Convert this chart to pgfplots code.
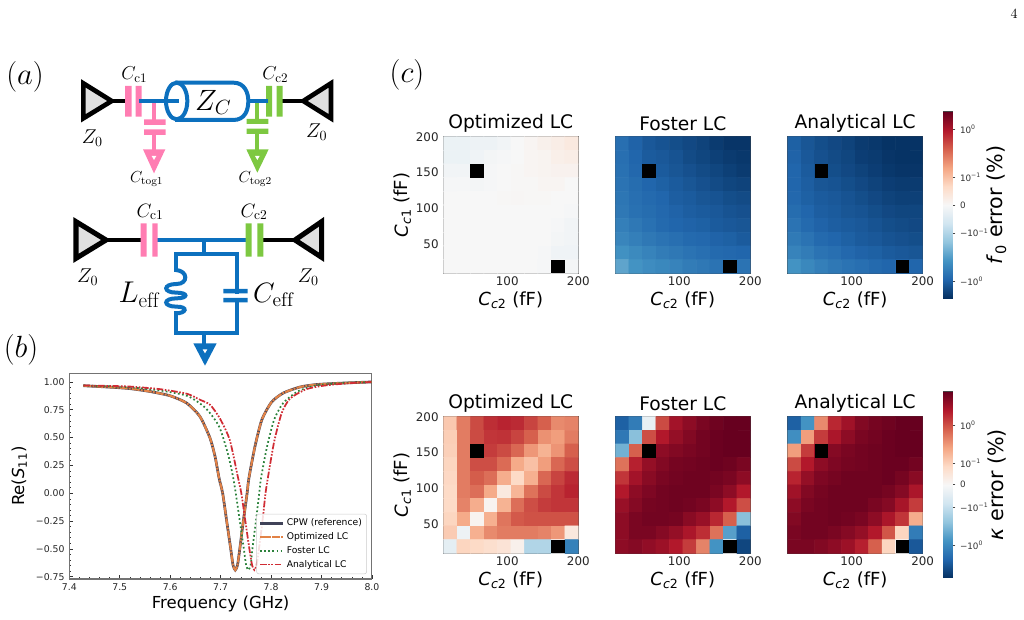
\RequirePackage{fix-cm}
\documentclass[border=0pt]{standalone}
\usepackage{fontspec}
\usepackage{pgfplots}
\pgfplotsset{compat=1.18}
\newfontfamily\dv{DejaVu Sans}
\newcommand\fs[1]{\fontsize{#1}{#1}\selectfont}
\newcommand\ccl[1]{{\dv\textit{C}\textsubscript{\textit{c}#1} (fF)}}
\definecolor{pk}{RGB}{255,125,178}
\definecolor{gn}{RGB}{125,200,65}
\definecolor{bl}{RGB}{12,112,190}
\definecolor{spine}{RGB}{70,70,70}
\pgfplotsset{
  colormap={RdBuR}{rgb255=(5,48,97) rgb255=(33,102,172) rgb255=(67,147,195) rgb255=(146,197,222) rgb255=(209,229,240) rgb255=(247,247,247) rgb255=(253,219,199) rgb255=(244,165,130) rgb255=(214,96,77) rgb255=(178,24,43) rgb255=(103,0,31)},
  heat/.style={
    scale only axis,width=101.25pt,height=102.45pt,anchor=south west,
    xmin=10,xmax=200,ymin=10,ymax=200,
    colormap name=RdBuR,point meta min=-1,point meta max=1,
    xtick={100,200},xticklabels={100,200},
    minor xtick={25,50,75,125,150,175},
    ytick={50,100,150,200},minor ytick={25,75,125,175},
    tick align=inside,xtick pos=bottom,ytick pos=left,
    major tick length=3pt,minor tick length=1.6pt,
    tick style={black,line width=.5pt},
    axis line style={spine,line width=.8pt},
    ticklabel style={font=\dv\fs{8.9},text=black!85},
    xticklabel style={yshift=1pt},
    every axis title/.style={at={(rel axis cs:0.5,1)},anchor=center,yshift=9.7pt,font=\dv\fs{14}},
    every axis x label/.style={at={(rel axis cs:0.5,0)},anchor=center,yshift=-20.5pt,font=\dv\fs{13.5}},
    every axis y label/.style={at={(rel axis cs:0,0.5)},anchor=center,xshift=-30.5pt,rotate=90,font=\dv\fs{13.5}},
    xlabel={\ccl{2}},
  },
  cbar/.style={
    scale only axis,width=7pt,anchor=south west,
    xmin=0,xmax=1,ymin=-1,ymax=1,xtick=\empty,
    ytick pos=right,tick align=outside,major tick length=2pt,
    tick style={spine,line width=.4pt},
    axis line style={spine,line width=.6pt},
    colormap name=RdBuR,point meta min=-1,point meta max=1,
    ticklabel style={font=\dv\fs{6.6},text=black!80},
    every axis y label/.style={at={(rel axis cs:1,0.5)},anchor=center,xshift=33pt,rotate=90,font=\dv\fs{15.5}},
  }
}
\newcommand\heat[1]{\addplot[matrix plot*,mesh/cols=10,point meta=explicit] table[row sep=crcr,header=false,x expr={19.5+19*mod(\coordindex,10)},y expr={190.5-19*floor(\coordindex/10)},meta index=0]{#1};}
\newcommand\blk{%
  \addplot[fill=black,draw=none] coordinates {(48,143)(67,143)(67,162)(48,162)} -- cycle;
  \addplot[fill=black,draw=none] coordinates {(162,10)(181,10)(181,29)(162,29)} -- cycle;
}
\begin{document}
\begin{tikzpicture}[x=.75pt,y=.75pt]
\useasboundingbox (0,0) rectangle (1024,620);
\node[font=\fs{10.5}] at (1014,606) {4};
% panel letters
\node[font=\fs{23}] at (25,543) {$(a)$};
\node[font=\fs{23}] at (21,270) {$(b)$};
\node[font=\fs{23}] at (407,545) {$(c)$};
% circuit, in the units of a 3x crop
\begin{scope}[x=.25pt,y=-.25pt,shift={(0pt,427.5pt)},line join=miter]
 % top
 \draw[black,line width=3pt] (335,153)--(385,153) (840,153)--(910,153);
 \draw[fill=black!12,line width=3.5pt] (250,100)--(250,205)--(335,153)--cycle;
 \draw[fill=black!12,line width=3.5pt] (993,100)--(993,205)--(910,153)--cycle;
 \draw[bl,line width=3pt] (525,98)--(700,98) .. controls (735,98) and (745,130) .. (745,153) .. controls (745,180) and (735,210) .. (700,210)--(525,210);
 \draw[bl,line width=3pt] (530,153) ellipse (32 and 55);
 \draw[bl,line width=3pt] (418,153)--(538,153) (745,153)--(805,153);
 \fill[pk] (375,108) rectangle (395,200) (407,108) rectangle (425,200);
 \draw[bl,line width=3pt] (418,153)--(538,153);
 \fill[gn] (798,108) rectangle (816,200) (830,108) rectangle (848,200);
 \draw[bl,line width=3pt] (745,153)--(805,153);
 \draw[pk,line width=3pt] (462,160)--(462,210) (462,255)--(462,300);
 \fill[pk] (432,208) rectangle (497,225) (432,238) rectangle (497,255);
 \fill[pk] (429,298)--(496,298)--(462,370)--cycle;
 \fill[white] (455,318)--(469,318)--(462,330)--cycle;
 \draw[gn,line width=3pt] (772,160)--(772,210) (772,250)--(772,300);
 \fill[gn] (740,207) rectangle (805,222) (740,236) rectangle (805,252);
 \fill[gn] (739,298)--(806,298)--(772,368)--cycle;
 \fill[white] (765,318)--(779,318)--(772,330)--cycle;
 \node[font=\fs{14}] at (403,74) {$C_{\mathrm{c1}}$};
 \node[font=\fs{14}] at (826,74) {$C_{\mathrm{c2}}$};
 \node[font=\fs{15}] at (277,264) {$Z_0$};
 \node[font=\fs{15}] at (950,246) {$Z_0$};
 \node[font=\fs{22}] at (640,157) {$Z_C$};
 \node[font=\fs{12}] at (440,387) {$C_{\mathrm{tog1}}$};
 \node[font=\fs{12}] at (766,387) {$C_{\mathrm{tog2}}$};
 % bottom
 \draw[black,line width=3.5pt] (318,570)--(430,570) (780,570)--(885,570);
 \draw[fill=black!12,line width=3.8pt] (228,515)--(228,625)--(318,570)--cycle;
 \draw[fill=black!12,line width=3.8pt] (965,515)--(965,622)--(885,570)--cycle;
 \draw[bl,line width=3pt] (470,570)--(745,570) (613,570)--(613,612);
 \draw[bl,line width=3pt,line cap=rect] (527,660)--(527,612)--(710,612)--(710,725) (710,757)--(710,850)--(527,850)--(527,790);
 \draw[bl,line width=3pt] (527,660) .. controls (565,662) and (565,702) .. (530,702) .. controls (488,702) and (488,728) .. (530,728)
   .. controls (565,728) and (565,745) .. (530,745) .. controls (488,745) and (488,770) .. (530,770) .. controls (565,770) and (560,790) .. (527,790);
 \fill[bl] (670,717) rectangle (743,730) (670,744) rectangle (743,757);
 \draw[bl,line width=3pt] (613,850)--(613,885);
 \fill[bl] (580,880)--(650,880)--(615,947)--cycle;
 \fill[white] (608,898)--(622,898)--(615,910)--cycle;
 \fill[pk] (422,520) rectangle (440,620) (457,520) rectangle (473,620);
 \fill[gn] (737,520) rectangle (755,620) (772,520) rectangle (790,620);
 \node[font=\fs{14.5}] at (450,486) {$C_{\mathrm{c1}}$};
 \node[font=\fs{14.5}] at (762,486) {$C_{\mathrm{c2}}$};
 \node[font=\fs{15}] at (263,682) {$Z_0$};
 \node[font=\fs{15}] at (925,682) {$Z_0$};
 \node[font=\fs{22.5}] at (417,735) {$L_{\mathrm{eff}}$};
 \node[font=\fs{21}] at (820,735) {$C_{\mathrm{eff}}$};
\end{scope}
% S11
\begin{axis}[scale only axis,width=227pt,height=154.3pt,anchor=south west,at={(69.3*.75pt,41*.75pt)},
  xmin=7.4,xmax=8.0,ymin=-0.771,ymax=1.078,
  xtick={7.4,7.5,7.6,7.7,7.8,7.9,8.0},xticklabels={7.4,7.5,7.6,7.7,7.8,7.9,8.0},
  ytick={-0.75,-0.5,-0.25,0,0.25,0.5,0.75,1},
  yticklabels={−0.75,−0.50,−0.25,0.00,0.25,0.50,0.75,1.00},
  minor x tick num=4,minor y tick num=4,
  tick align=inside,xtick pos=bottom,ytick pos=left,
  major tick length=3pt,minor tick length=1.5pt,
  tick style={black!80,line width=.4pt},
  axis line style={black!55,line width=.8pt},
  ticklabel style={font=\dv\fs{7},text=black!85},
  every axis x label/.style={at={(rel axis cs:0.5,0)},anchor=center,yshift=-18.75pt,font=\dv\fs{12.4}},
  every axis y label/.style={at={(rel axis cs:0,0.5)},anchor=center,xshift=-37.5pt,rotate=90,font=\dv\fs{12.4}},
  xlabel={Frequency (GHz)},ylabel={Re(\textit{S}\textsubscript{11})},
  legend style={at={(0.983,0.024)},anchor=south east,draw=black!20,rounded corners=1.5pt,fill=white,fill opacity=.85,text opacity=1,font=\dv\fs{6.9},row sep=-.35pt,inner sep=1.5pt},
  legend cell align=left]
\addplot[color={rgb,255:red,64;green,66;blue,88},line width=2pt,smooth,tension=.4] coordinates {
(7.4278,.966)(7.4807,.953)(7.5203,.940)(7.56,.914)(7.5996,.876)(7.6327,.81)(7.659,.689)(7.679,.495)(7.689,.329)(7.697,.134)(7.704,0)(7.712,-.25)(7.72,-.5)(7.7245,-.645)(7.729,-.69)(7.7335,-.645)(7.738,-.5)(7.745,-.25)(7.7525,0)(7.756,.134)(7.768,.419)(7.7817,.66)(7.801,.819)(7.824,.90)(7.857,.954)(7.8905,.977)(7.943,.99)(8.0,1.0)};
\addlegendentry{CPW (reference)}
\addplot[color={rgb,255:red,226;green,130;blue,70},line width=1.6pt,dash pattern=on 6pt off .8pt on 1.5pt off .8pt,smooth,tension=.4] coordinates {
(7.4278,.966)(7.4807,.953)(7.5203,.940)(7.56,.914)(7.5996,.876)(7.6327,.81)(7.659,.689)(7.679,.495)(7.689,.329)(7.697,.134)(7.704,0)(7.712,-.25)(7.72,-.5)(7.7245,-.645)(7.729,-.69)(7.7335,-.645)(7.738,-.5)(7.745,-.25)(7.7525,0)(7.756,.134)(7.768,.419)(7.7817,.66)(7.801,.819)(7.824,.90)(7.857,.954)(7.8905,.977)(7.943,.99)(8.0,1.0)};
\addlegendentry{Optimized LC}
\addplot[color={rgb,255:red,44;green,130;blue,60},line width=1.3pt,dash pattern=on 1.3pt off 1.8pt,smooth,tension=.4] coordinates {
(7.4278,.968)(7.5137,.954)(7.58,.923)(7.633,.876)(7.6625,.795)(7.679,.72)(7.698,.59)(7.715,.345)(7.7245,.149)(7.73,0)(7.738,-.25)(7.746,-.5)(7.7505,-.645)(7.755,-.69)(7.7595,-.645)(7.763,-.5)(7.770,-.25)(7.7765,0)(7.780,.134)(7.792,.419)(7.806,.66)(7.824,.81)(7.853,.915)(7.89,.97)(7.943,.99)(8.0,1.0)};
\addlegendentry{Foster LC}
\addplot[color={rgb,255:red,208;green,44;blue,52},line width=1.3pt,dash pattern=on 5pt off 1.2pt on 1.2pt off 1.2pt on 1.2pt off 1.2pt,smooth,tension=.4] coordinates {
(7.4278,.968)(7.5137,.96)(7.58,.935)(7.633,.894)(7.659,.84)(7.679,.795)(7.698,.676)(7.718,.48)(7.734,.15)(7.741,0)(7.749,-.25)(7.757,-.5)(7.7623,-.645)(7.7668,-.69)(7.7713,-.645)(7.776,-.5)(7.783,-.25)(7.789,.0)(7.7935,.134)(7.806,.46)(7.821,.72)(7.8375,.85)(7.87,.935)(7.91,.97)(7.96,.99)(8.0,1.0)};
\addlegendentry{Analytical LC}
\end{axis}
% f0 row
\begin{axis}[heat,at={(443.3*.75pt,346.7*.75pt)},title={Optimized LC},ylabel={\ccl{1}},yticklabels={50,100,150,200}]
\heat{-.06\\-.06\\-.05\\-.05\\-.03\\0\\.02\\.05\\.07\\.1\\
-.06\\-.06\\-.04\\-.02\\-.01\\0\\.02\\.03\\.06\\.07\\
-.03\\-.03\\0\\-.01\\0\\.01\\.02\\.03\\.04\\.04\\
-.01\\-.01\\-.02\\-.01\\0\\.01\\.01\\.02\\.02\\0\\
0\\0\\0\\0\\.01\\.015\\.01\\.01\\0\\0\\
0\\0\\0\\0\\0\\0\\0\\0\\0\\-.01\\
0\\0\\0\\0\\0\\0\\0\\0\\-.01\\-.03\\
0\\0\\0\\0\\0\\0\\0\\0\\-.02\\-.03\\
0\\0\\0\\0\\0\\0\\0\\-.01\\-.04\\-.04\\
0\\0\\0\\0\\0\\0\\0\\-.01\\0\\-.02\\}
\blk
\end{axis}
\begin{axis}[heat,at={(615.3*.75pt,346.7*.75pt)},title={Foster LC},yticklabels={}]
\heat{-.76\\-.81\\-.85\\-.87\\-.89\\-.91\\-.93\\-.96\\-.98\\-.98\\
-.76\\-.8\\-.84\\-.85\\-.87\\-.9\\-.92\\-.94\\-.96\\-.97\\
-.75\\-.79\\-.82\\-.84\\-.86\\-.88\\-.9\\-.92\\-.94\\-.96\\
-.74\\-.77\\-.8\\-.82\\-.84\\-.86\\-.88\\-.9\\-.92\\-.93\\
-.73\\-.76\\-.78\\-.8\\-.83\\-.84\\-.86\\-.87\\-.89\\-.9\\
-.72\\-.75\\-.77\\-.79\\-.81\\-.83\\-.84\\-.85\\-.87\\-.88\\
-.69\\-.72\\-.75\\-.78\\-.8\\-.81\\-.82\\-.84\\-.85\\-.86\\
-.66\\-.69\\-.72\\-.74\\-.76\\-.78\\-.79\\-.81\\-.82\\-.84\\
-.61\\-.64\\-.67\\-.7\\-.72\\-.74\\-.76\\-.78\\-.79\\-.8\\
-.53\\-.6\\-.63\\-.65\\-.67\\-.7\\-.72\\-.74\\-.74\\-.74\\}
\blk
\end{axis}
\begin{axis}[heat,at={(787.7*.75pt,346.7*.75pt)},title={Analytical LC},yticklabels={}]
\heat{-.82\\-.86\\-.89\\-.91\\-.93\\-.96\\-.97\\-.99\\-.99\\-.99\\
-.81\\-.85\\-.88\\-.9\\-.92\\-.95\\-.96\\-.98\\-.99\\-.99\\
-.8\\-.84\\-.87\\-.89\\-.91\\-.93\\-.95\\-.97\\-.98\\-.98\\
-.8\\-.83\\-.86\\-.87\\-.89\\-.91\\-.93\\-.95\\-.96\\-.96\\
-.79\\-.82\\-.84\\-.85\\-.87\\-.89\\-.91\\-.93\\-.94\\-.94\\
-.77\\-.8\\-.83\\-.84\\-.86\\-.87\\-.89\\-.91\\-.92\\-.92\\
-.74\\-.78\\-.81\\-.83\\-.84\\-.85\\-.87\\-.89\\-.9\\-.91\\
-.71\\-.74\\-.78\\-.8\\-.82\\-.84\\-.85\\-.87\\-.88\\-.89\\
-.67\\-.7\\-.74\\-.76\\-.79\\-.81\\-.82\\-.84\\-.85\\-.86\\
-.6\\-.65\\-.69\\-.72\\-.74\\-.76\\-.78\\-.8\\-.8\\-.8\\}
\blk
\end{axis}
\begin{axis}[cbar,at={(943.3*.75pt,321.7*.75pt)},height=140pt,
  ytick={-.818,-.298,0,.298,.814},
  yticklabels={−10\textsuperscript{0},−10\textsuperscript{−1},0,10\textsuperscript{−1},10\textsuperscript{0}},
  ylabel={\textit{f}\textsubscript{0} error (\%)}]
\addplot[surf,shader=interp,point meta=y] coordinates {(0,-1)(1,-1)

(0,1)(1,1)};
\end{axis}
% kappa row
\begin{axis}[heat,at={(443.3*.75pt,66.7*.75pt)},title={Optimized LC},ylabel={\ccl{1}},yticklabels={50,100,150,200}]
\heat{.27\\.52\\.66\\.74\\.77\\.75\\.68\\.6\\.48\\.5\\
.25\\.52\\.66\\.72\\.73\\.68\\.6\\.46\\.42\\.52\\
.24\\.52\\.6\\.7\\.66\\.58\\.44\\.35\\.45\\.6\\
.22\\.52\\.65\\.65\\.57\\.38\\.3\\.42\\.58\\.65\\
.21\\.52\\.61\\.56\\.37\\.2\\.36\\.58\\.68\\.75\\
.2\\.52\\.56\\.38\\.1\\.34\\.55\\.66\\.72\\.77\\
.2\\.5\\.37\\.03\\.35\\.56\\.65\\.7\\.72\\.72\\
.22\\.38\\.03\\.36\\.54\\.62\\.64\\.64\\.64\\.64\\
.26\\-.05\\.36\\.48\\.52\\.52\\.52\\.5\\.44\\.11\\
-.1\\.22\\.2\\.17\\.14\\.05\\-.3\\-.3\\0\\-.68\\}
\blk
\end{axis}
\begin{axis}[heat,at={(615.3*.75pt,66.7*.75pt)},title={Foster LC},yticklabels={}]
\heat{-.82\\-.7\\-.08\\.66\\.84\\.9\\.95\\.98\\1\\1\\
-.72\\-.42\\.65\\.8\\.88\\.93\\.97\\.99\\1\\1\\
-.48\\.6\\.8\\.9\\.93\\.95\\.97\\.99\\1\\1\\
.55\\.78\\.88\\.93\\.96\\.97\\.98\\.99\\.98\\.95\\
.72\\.84\\.91\\.95\\.97\\.98\\.98\\.97\\.95\\.9\\
.8\\.9\\.94\\.97\\.98\\.98\\.98\\.95\\.9\\.8\\
.87\\.92\\.96\\.97\\.98\\.97\\.95\\.9\\.8\\.65\\
.9\\.95\\.97\\.97\\.96\\.91\\.87\\.76\\.6\\-.42\\
.9\\.95\\.95\\.92\\.88\\.82\\.74\\.55\\-.55\\-.82\\
.9\\.92\\.89\\.86\\.8\\.7\\.5\\-.6\\0\\-.92\\}
\blk
\end{axis}
\begin{axis}[heat,at={(787.7*.75pt,66.7*.75pt)},title={Analytical LC},yticklabels={}]
\heat{-.82\\-.6\\.48\\.76\\.85\\.93\\.96\\.98\\1\\1\\
-.62\\.42\\.7\\.82\\.9\\.95\\.97\\.99\\1\\1\\
.42\\.7\\.85\\.92\\.95\\.97\\.98\\.99\\1\\1\\
.66\\.8\\.9\\.94\\.96\\.97\\.98\\.99\\.99\\.97\\
.77\\.88\\.94\\.96\\.98\\.98\\.98\\.99\\.96\\.91\\
.85\\.93\\.96\\.98\\.98\\.98\\.98\\.96\\.92\\.82\\
.9\\.95\\.97\\.98\\.98\\.98\\.95\\.92\\.83\\.7\\
.93\\.97\\.97\\.98\\.97\\.95\\.9\\.82\\.72\\.37\\
.95\\.97\\.97\\.95\\.92\\.88\\.8\\.63\\.22\\-.7\\
.95\\.95\\.93\\.9\\.86\\.78\\.6\\.22\\0\\-.85\\}
\blk
\end{axis}
\begin{axis}[cbar,at={(943.3*.75pt,42.3*.75pt)},height=139.5pt,
  ytick={-.652,-.24,0,.23,.642},
  yticklabels={−10\textsuperscript{0},−10\textsuperscript{−1},0,10\textsuperscript{−1},10\textsuperscript{0}},
  ylabel={\textit{κ} error (\%)}]
\addplot[surf,shader=interp,point meta=y] coordinates {(0,-1)(1,-1)

(0,1)(1,1)};
\end{axis}
\end{tikzpicture}
\end{document}
